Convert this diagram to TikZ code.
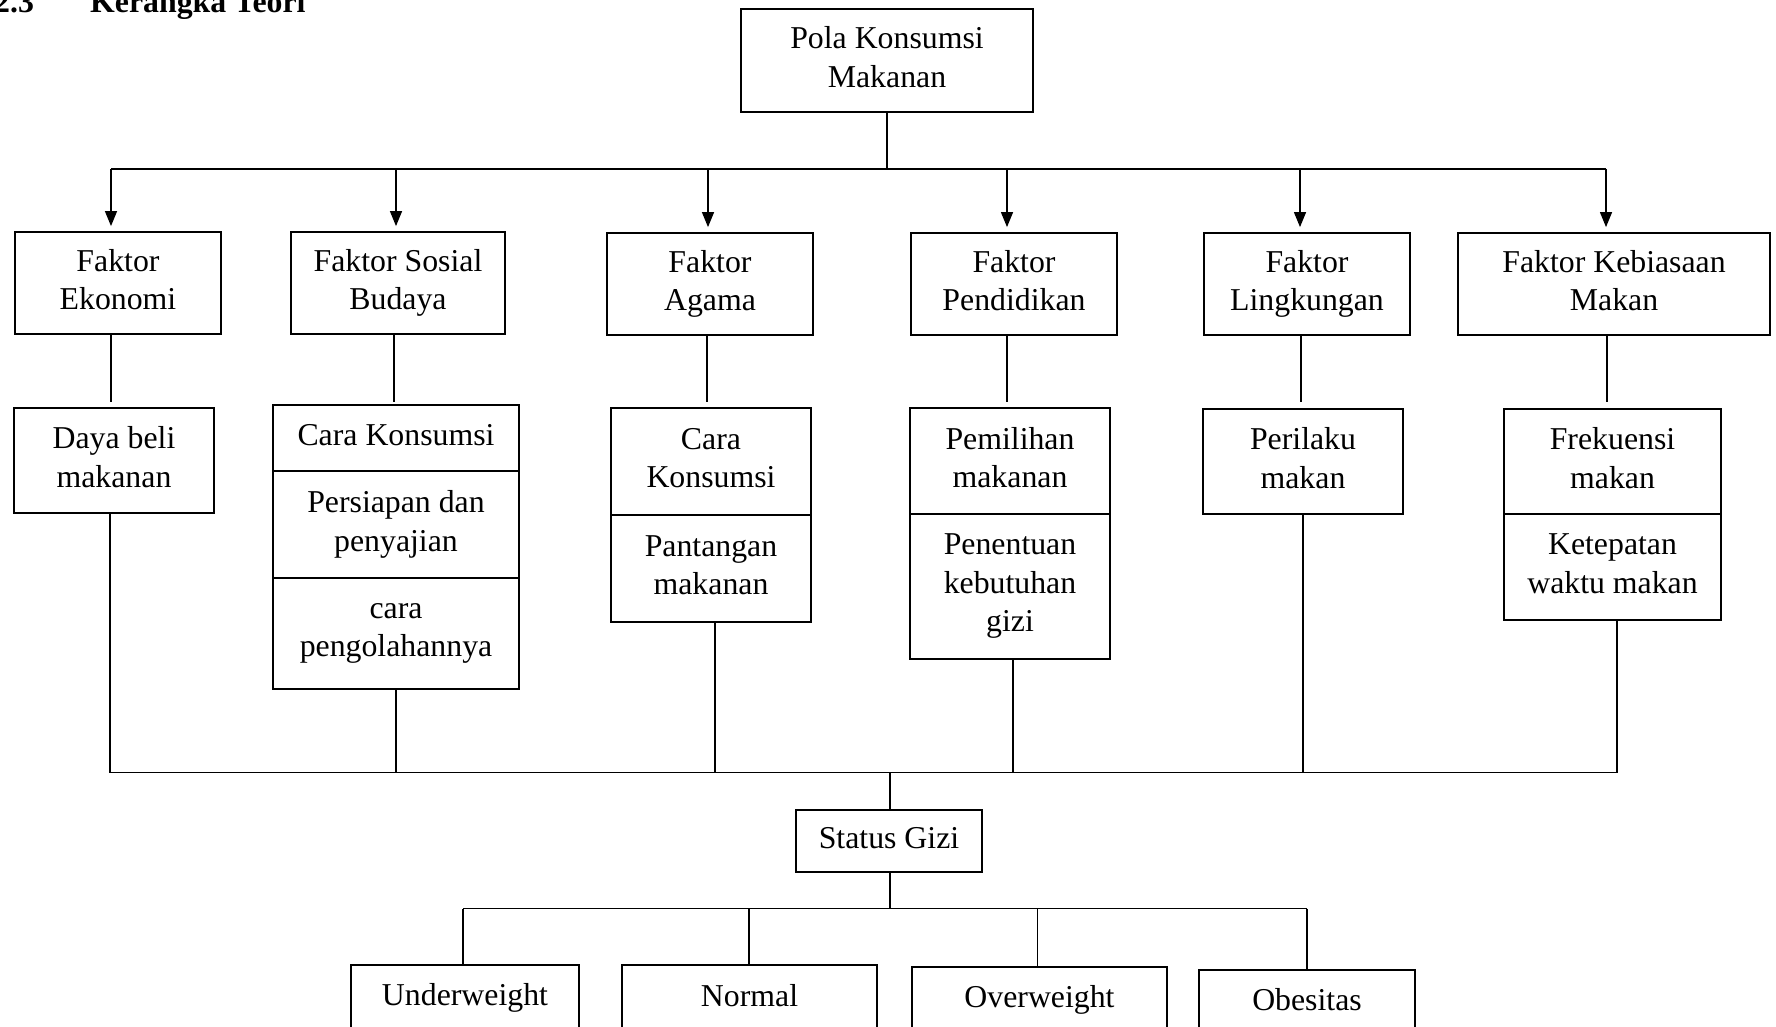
\documentclass[tikz,border=0pt]{standalone}
\usepackage{fontspec}
\setmainfont{Liberation Serif}
\usetikzlibrary{arrows.meta}
\begin{document}
\begin{tikzpicture}[x=1pt,y=-1pt,
 txt/.style={font=\fontsize{31.8}{38.5}\selectfont},
 box/.style={draw, line width=1.8pt, inner sep=0pt, align=center, text depth=6.9pt, txt},
 lowbox/.style={box, minimum height=100pt, text depth=41.5pt},
 conn/.style={line width=1.3pt},
 arr/.style={conn, -{Triangle[width=12pt,length=15pt]}, shorten >=5pt},
]
\clip (0,0) rectangle (1776,1027);
\useasboundingbox (0,0) rectangle (1776,1027);

% heading
\node[anchor=base west, inner sep=0pt, font=\bfseries\fontsize{31.8}{38.5}\selectfont] (num) at (-6,13) {2.3};
\node[anchor=base west, inner sep=0pt, font=\bfseries\fontsize{31.8}{38.5}\selectfont] (ttl) at (90,13) {Kerangka Teori};

% top
\node[box, minimum width=292pt, minimum height=103pt] (pola) at (887,60.5) {Pola Konsumsi\\Makanan};

% factor row
\node[box, minimum width=206pt, minimum height=102pt] (eko) at (118,283) {Faktor\\Ekonomi};
\node[box, minimum width=214pt, minimum height=102pt] (sos) at (398,283) {Faktor Sosial\\Budaya};
\node[box, minimum width=206pt, minimum height=102pt] (aga) at (710,284) {Faktor\\Agama};
\node[box, minimum width=206pt, minimum height=102pt] (pen) at (1014,284) {Faktor\\Pendidikan};
\node[box, minimum width=206pt, minimum height=102pt] (lin) at (1307,284) {Faktor\\Lingkungan};
\node[box, minimum width=312pt, minimum height=102pt] (keb) at (1614,284) {Faktor Kebiasaan\\Makan};

% sub boxes
\node[box, minimum width=200pt, minimum height=105pt] (day) at (114,460.5) {Daya beli\\makanan};
\node[box, minimum width=246pt, minimum height=65.5pt] (sos1) at (396,438) {Cara Konsumsi};
\node[box, minimum width=246pt, minimum height=107pt] (sos2) at (396,524.5) {Persiapan dan\\penyajian};
\node[box, minimum width=246pt, minimum height=111pt] (sos3) at (396,633.5) {cara\\pengolahannya};
\node[box, minimum width=200pt, minimum height=107pt] (aga1) at (711,461.5) {Cara\\Konsumsi};
\node[box, minimum width=200pt, minimum height=107pt] (aga2) at (711,568.5) {Pantangan\\makanan};
\node[box, minimum width=200pt, minimum height=106pt] (pen1) at (1010,461) {Pemilihan\\makanan};
\node[box, minimum width=200pt, minimum height=145pt] (pen2) at (1010,586.5) {Penentuan\\kebutuhan\\gizi};
\node[box, minimum width=200pt, minimum height=105pt] (per) at (1303,461.5) {Perilaku\\makan};
\node[box, minimum width=217pt, minimum height=105pt] (fre1) at (1612.5,461.5) {Frekuensi\\makan};
\node[box, minimum width=217pt, minimum height=106pt] (fre2) at (1612.5,567) {Ketepatan\\waktu makan};

% status
\node[box, minimum width=186pt, minimum height=62pt] (stat) at (889,841) {Status Gizi};

% bottom row (boxes run off the lower edge)
\node[lowbox, minimum width=228pt] (und) at (465,1015) {Underweight};
\node[lowbox, minimum width=255pt, text depth=39pt] (nor) at (749.5,1015) {Normal};
\node[lowbox, minimum width=255pt] (ove) at (1039.5,1017) {Overweight};
\node[lowbox, minimum width=215.5pt, text depth=42pt] (obe) at (1307,1020) {Obesitas};

% top bus
\coordinate (tb) at (887,169);
\coordinate (a1) at (111,169);
\coordinate (a2) at (396,169);
\coordinate (a3) at (708,169);
\coordinate (a4) at (1007,169);
\coordinate (a5) at (1300,169);
\coordinate (a6) at (1606,169);
\draw[conn] (pola.south) -- (tb);
\draw[conn] (a1) -- (a6);
\draw[arr] (a1) -- (a1 |- eko.north);
\draw[arr] (a2) -- (a2 |- sos.north);
\draw[arr] (a3) -- (a3 |- aga.north);
\draw[arr] (a4) -- (a4 |- pen.north);
\draw[arr] (a5) -- (a5 |- lin.north);
\draw[arr] (a6) -- (a6 |- keb.north);

% factor to sub
\coordinate (c1) at (111,402);
\coordinate (c2) at (394,402);
\coordinate (c3) at (707,402);
\coordinate (c4) at (1007,402);
\coordinate (c5) at (1301,402);
\coordinate (c6) at (1607,402);
\draw[conn] (eko.south -| c1) -- (c1);
\draw[conn] (sos.south -| c2) -- (c2);
\draw[conn] (aga.south -| c3) -- (c3);
\draw[conn] (pen.south -| c4) -- (c4);
\draw[conn] (lin.south -| c5) -- (c5);
\draw[conn] (keb.south -| c6) -- (c6);

% lower bus
\coordinate (d1) at (110,772.5);
\coordinate (d2) at (396,772.5);
\coordinate (d3) at (715,772.5);
\coordinate (d4) at (1013,772.5);
\coordinate (d5) at (1303,772.5);
\coordinate (d6) at (1617,772.5);
\draw[conn] (day.south -| d1) -- (d1);
\draw[conn] (sos3.south -| d2) -- (d2);
\draw[conn] (aga2.south -| d3) -- (d3);
\draw[conn] (pen2.south -| d4) -- (d4);
\draw[conn] (per.south -| d5) -- (d5);
\draw[conn] (fre2.south -| d6) -- (d6);
\draw[conn] (d1) -- (d6);

% status connectors
\coordinate (m1) at (890,772.5);
\coordinate (m2) at (890,908.5);
\draw[conn] (m1) -- (stat.north -| m1);
\draw[conn] (stat.south -| m2) -- (m2);
\coordinate (e1) at (463,908.5);
\coordinate (e2) at (749,908.5);
\coordinate (e3) at (1037.5,908.5);
\coordinate (e4) at (1307,908.5);
\draw[conn] (e1) -- (e4);
\draw[conn] (e1) -- (e1 |- und.north);
\draw[conn] (e2) -- (e2 |- nor.north);
\draw[conn] (e3) -- (e3 |- ove.north);
\draw[conn] (e4) -- (e4 |- obe.north);
\end{tikzpicture}
\end{document}
